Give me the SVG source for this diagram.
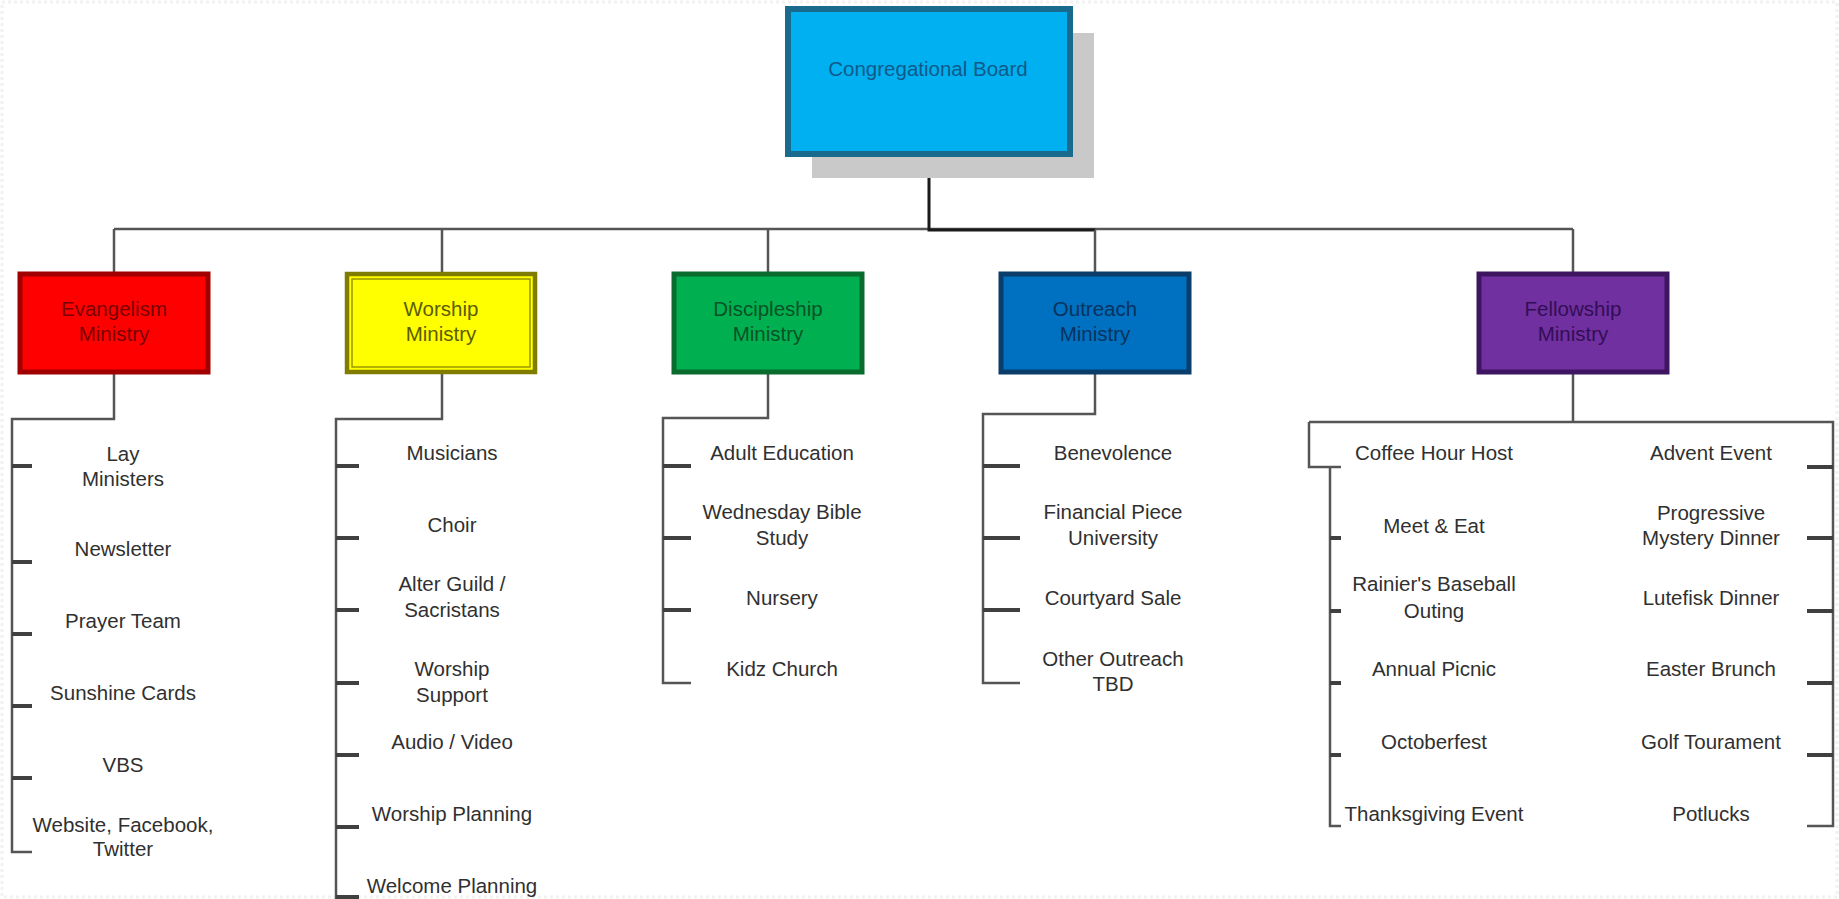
<svg xmlns="http://www.w3.org/2000/svg" width="1839" height="899" viewBox="0 0 1839 899">
<style>
text{font-family:"Liberation Sans",Arial,sans-serif;font-size:20.5px;text-anchor:middle;dominant-baseline:central}
.lbl{fill:#303030}
.ln{fill:none;stroke:#555;stroke-width:2.5}
.tk{fill:none;stroke:#404040;stroke-width:4}
.mb{stroke-width:5}
</style>
<rect x="2" y="2" width="1835" height="895" fill="#fff" stroke="#f2f2f2" stroke-width="3" stroke-dasharray="3 3"/>
<g id="connectors">
<path class="ln" d="M114,229 H1573"/>
<path d="M929,154 V230 H1095" fill="none" stroke="#1a1a1a" stroke-width="3"/>
<path class="ln" d="M114,229 V274 M442,229 V274 M768,229 V274 M1095,230 V274 M1573,229 V274"/>
<path class="ln" d="M114,372 V419 H12 V852 H32"/>
<path class="tk" d="M12,466 H32 M12,562 H32 M12,634 H32 M12,706 H32 M12,778 H32"/>
<path class="ln" d="M442,372 V419 H336 V899"/>
<path class="tk" d="M336,466 H359 M336,538 H359 M336,610 H359 M336,683 H359 M336,755 H359 M336,827 H359 M336,897 H359"/>
<path class="ln" d="M768,372 V418 H663 V683 H691"/>
<path class="tk" d="M663,466 H691 M663,538 H691 M663,610 H691"/>
<path class="ln" d="M1095,372 V414 H983 V683 H1020"/>
<path class="tk" d="M983,466 H1020 M983,538 H1020 M983,610 H1020"/>
<path class="ln" d="M1573,372 V422 M1309,422 H1833 V826 H1807 M1309,422 V467 H1341 M1330,467 V826 H1341"/>
<path class="tk" d="M1330,538 H1341 M1330,611 H1341 M1330,683 H1341 M1330,755 H1341"/>
<path class="tk" d="M1807,467 H1833 M1807,538 H1833 M1807,611 H1833 M1807,683 H1833 M1807,755 H1833"/>
</g>
<g id="congregational-board">
<rect x="812" y="33" width="282" height="145" fill="#c9c9c9"/>
<rect x="788" y="9" width="282" height="145" fill="#00b0f0" stroke="#1a6a8e" stroke-width="6"/>
<text x="928" y="68" fill="#0f5a8a">Congregational Board</text>
</g>
<g id="evangelism-ministry">
<rect class="mb" x="20" y="274" width="188" height="98" fill="#ff0000" stroke="#a00000"/>
<text x="114" y="308" fill="#7a0000">Evangelism</text>
<text x="114" y="333" fill="#7a0000">Ministry</text>
</g>
<g id="worship-ministry">
<rect x="347" y="274" width="188" height="98" fill="#ffff00" stroke="#7f7c00" stroke-width="4.5"/>
<rect x="352" y="279" width="178" height="88" fill="none" stroke="#9a9600" stroke-width="1.5"/>
<text x="441" y="308" fill="#5c5c00">Worship</text>
<text x="441" y="333" fill="#5c5c00">Ministry</text>
</g>
<g id="discipleship-ministry">
<rect class="mb" x="674" y="274" width="188" height="98" fill="#00b050" stroke="#0a6b2e"/>
<text x="768" y="308" fill="#0a5226">Discipleship</text>
<text x="768" y="333" fill="#0a5226">Ministry</text>
</g>
<g id="outreach-ministry">
<rect class="mb" x="1001" y="274" width="188" height="98" fill="#0070c0" stroke="#0b3d6b"/>
<text x="1095" y="308" fill="#08335e">Outreach</text>
<text x="1095" y="333" fill="#08335e">Ministry</text>
</g>
<g id="fellowship-ministry">
<rect class="mb" x="1479" y="274" width="188" height="98" fill="#7030a0" stroke="#3e1560"/>
<text x="1573" y="308" fill="#330e56">Fellowship</text>
<text x="1573" y="333" fill="#330e56">Ministry</text>
</g>
<g class="lbl">
<g id="lay-ministers"><text x="123" y="453">Lay</text><text x="123" y="478">Ministers</text></g>
<g id="newsletter"><text x="123" y="548">Newsletter</text></g>
<g id="prayer-team"><text x="123" y="620">Prayer Team</text></g>
<g id="sunshine-cards"><text x="123" y="692">Sunshine Cards</text></g>
<g id="vbs"><text x="123" y="764">VBS</text></g>
<g id="website"><text x="123" y="824">Website, Facebook,</text><text x="123" y="848">Twitter</text></g>

<g id="musicians"><text x="452" y="452">Musicians</text></g>
<g id="choir"><text x="452" y="524">Choir</text></g>
<g id="alter-guild"><text x="452" y="583">Alter Guild /</text><text x="452" y="609">Sacristans</text></g>
<g id="worship-support"><text x="452" y="668">Worship</text><text x="452" y="694">Support</text></g>
<g id="audio-video"><text x="452" y="741">Audio / Video</text></g>
<g id="worship-planning"><text x="452" y="813">Worship Planning</text></g>
<g id="welcome-planning"><text x="452" y="885">Welcome Planning</text></g>

<g id="adult-education"><text x="782" y="452">Adult Education</text></g>
<g id="wednesday-bible-study"><text x="782" y="511">Wednesday Bible</text><text x="782" y="537">Study</text></g>
<g id="nursery"><text x="782" y="597">Nursery</text></g>
<g id="kidz-church"><text x="782" y="668">Kidz Church</text></g>

<g id="benevolence"><text x="1113" y="452">Benevolence</text></g>
<g id="financial-peace"><text x="1113" y="511">Financial Piece</text><text x="1113" y="537">University</text></g>
<g id="courtyard-sale"><text x="1113" y="597">Courtyard Sale</text></g>
<g id="other-outreach"><text x="1113" y="658">Other Outreach</text><text x="1113" y="683">TBD</text></g>

<g id="coffee-hour-host"><text x="1434" y="452">Coffee Hour Host</text></g>
<g id="meet-eat"><text x="1434" y="525">Meet &amp; Eat</text></g>
<g id="baseball-outing"><text x="1434" y="583">Rainier's Baseball</text><text x="1434" y="610">Outing</text></g>
<g id="annual-picnic"><text x="1434" y="668">Annual Picnic</text></g>
<g id="octoberfest"><text x="1434" y="741">Octoberfest</text></g>
<g id="thanksgiving-event"><text x="1434" y="813">Thanksgiving Event</text></g>

<g id="advent-event"><text x="1711" y="452">Advent Event</text></g>
<g id="mystery-dinner"><text x="1711" y="512">Progressive</text><text x="1711" y="537">Mystery Dinner</text></g>
<g id="lutefisk-dinner"><text x="1711" y="597">Lutefisk Dinner</text></g>
<g id="easter-brunch"><text x="1711" y="668">Easter Brunch</text></g>
<g id="golf-tourament"><text x="1711" y="741">Golf Tourament</text></g>
<g id="potlucks"><text x="1711" y="813">Potlucks</text></g>
</g>
</svg>
